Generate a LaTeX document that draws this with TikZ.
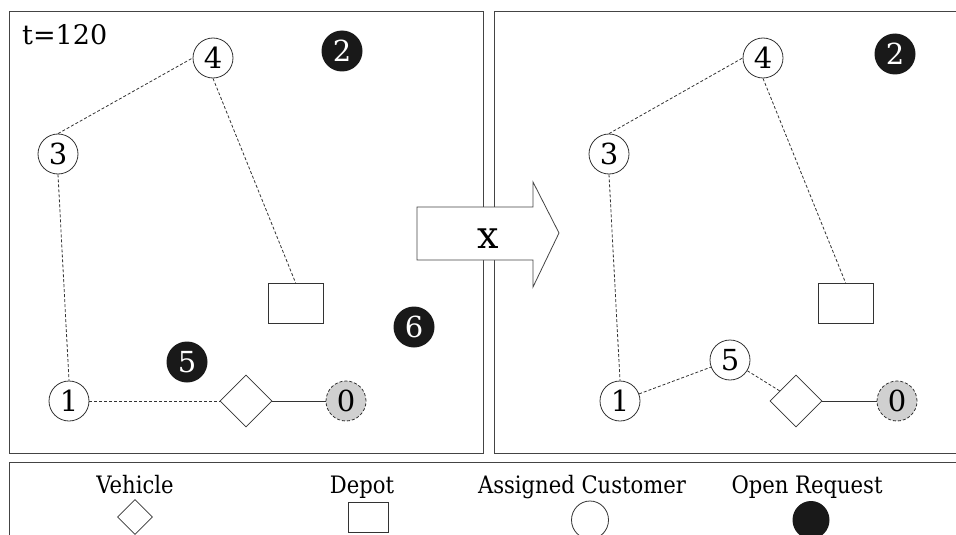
\documentclass[tikz,border=0pt]{standalone}
\usepackage{fontspec}
\usepackage{graphicx}
\setmainfont{DejaVu Serif}
\usetikzlibrary{shapes.geometric}
\definecolor{edgegray}{HTML}{333333}
\definecolor{framegray}{HTML}{444444}
\definecolor{depotfill}{HTML}{D0D0D0}
\tikzset{
  cust/.style={circle,draw=edgegray,line width=0.8pt,fill=white,minimum size=40pt,inner sep=0pt,font=\fontsize{29}{29}\selectfont},
  openreq/.style={circle,fill=black!90,minimum size=41pt,inner sep=0pt,text=white,font=\fontsize{29}{29}\selectfont},
  startnode/.style={circle,draw=edgegray,dash pattern=on 3pt off 2pt,line width=0.8pt,fill=depotfill,minimum size=40pt,inner sep=0pt,font=\fontsize{29}{29}\selectfont},
  vehicle/.style={diamond,draw=edgegray,line width=0.8pt,fill=white,minimum width=52pt,minimum height=52pt,inner sep=0pt},
  depotbox/.style={rectangle,draw=edgegray,line width=0.8pt,fill=white,minimum width=55pt,minimum height=40pt,inner sep=0pt},
  route/.style={draw=edgegray,line width=0.8pt,dash pattern=on 3pt off 2pt},
  solidroute/.style={draw=edgegray,line width=0.9pt},
  frame/.style={draw=framegray,line width=1pt},
  legtext/.style={font=\fontsize{24}{24}\selectfont,inner sep=0pt,anchor=base},
}
\newcommand{\legscale}[1]{\scalebox{0.88}[1]{#1}}
\begin{document}
\begin{tikzpicture}[x=1pt,y=-1pt]
\useasboundingbox (0,0) rectangle (956,535);
\clip (0,0) rectangle (956,535);
% panels
\draw[frame] (9,12) rectangle (483,453);
\draw[frame] (494,12) rectangle (970,453);
\draw[frame] (9,545) -- (9,462) -- (970,462);

% left panel
\node[font=\fontsize{27}{27}\selectfont,anchor=base west,inner sep=0pt] (tlabel) at (22,45) {t=120};
\node[cust] (l4) at (213,58) {4};
\node[cust] (l3) at (58,154) {3};
\node[cust] (l1) at (69,401) {1};
\node[vehicle] (lveh) at (246,401) {};
\node[startnode] (l0) at (346,401) {0};
\node[depotbox] (ldep) at (295.5,303) {};
\node[openreq] (l2) at (342,51) {2};
\node[openreq] (l5) at (187,362) {5};
\node[openreq] (l6) at (414,327) {6};
\path[route] (l3.north) -- (l4.west);
\path[route] (l4.south) -- (ldep.north);
\path[route] (l3.south) -- (l1.north);
\path[route] (l1.east) -- (lveh.west);
\path[solidroute] (lveh.east) -- (l0.west);

% right panel
\node[cust] (r4) at (763,58) {4};
\node[cust] (r3) at (609,154) {3};
\node[cust] (r1) at (620,401) {1};
\node[cust] (r5) at (730,360) {5};
\node[vehicle] (rveh) at (796,401) {};
\node[startnode] (r0) at (897,401) {0};
\node[depotbox] (rdep) at (845.5,303) {};
\node[openreq] (r2) at (895,54) {2};
\path[route] (r3.north) -- (r4.west);
\path[route] (r4.south) -- (rdep.north);
\path[route] (r3.south) -- (r1.north);
\path[route] (r1) -- (r5);
\path[route] (r5) -- (rveh);
\path[solidroute] (rveh.east) -- (r0.west);

% transition arrow
\draw[draw=framegray,line width=0.8pt,fill=white] (417,207) -- (533,207) -- (533,182) -- (559,233) -- (533,287) -- (533,260) -- (417,260) -- cycle;
\node[font=\fontsize{38}{38}\selectfont,inner sep=0pt,anchor=base] (xlabel) at (488,248) {x};

% legend
\node[legtext] (tveh) at (135,493) {\legscale{Vehicle}};
\node[legtext] (tdep) at (362,493) {\legscale{Depot}};
\node[legtext] (tcust) at (582,493) {\legscale{Assigned Customer}};
\node[legtext] (treq) at (807,493) {\legscale{Open Request}};
\node[diamond,draw=edgegray,line width=0.8pt,minimum width=35pt,minimum height=35pt,inner sep=0pt] (gveh) at (135,517) {};
\node[rectangle,draw=edgegray,line width=0.8pt,minimum width=40pt,minimum height=30pt,inner sep=0pt] (gdep) at (368,517) {};
\node[ellipse,draw=edgegray,line width=0.8pt,minimum width=37pt,minimum height=38pt,inner sep=0pt] (gcust) at (590,520) {};
\node[ellipse,fill=black!90,minimum width=37pt,minimum height=38pt,inner sep=0pt] (greq) at (811,520) {};
\end{tikzpicture}
\end{document}
